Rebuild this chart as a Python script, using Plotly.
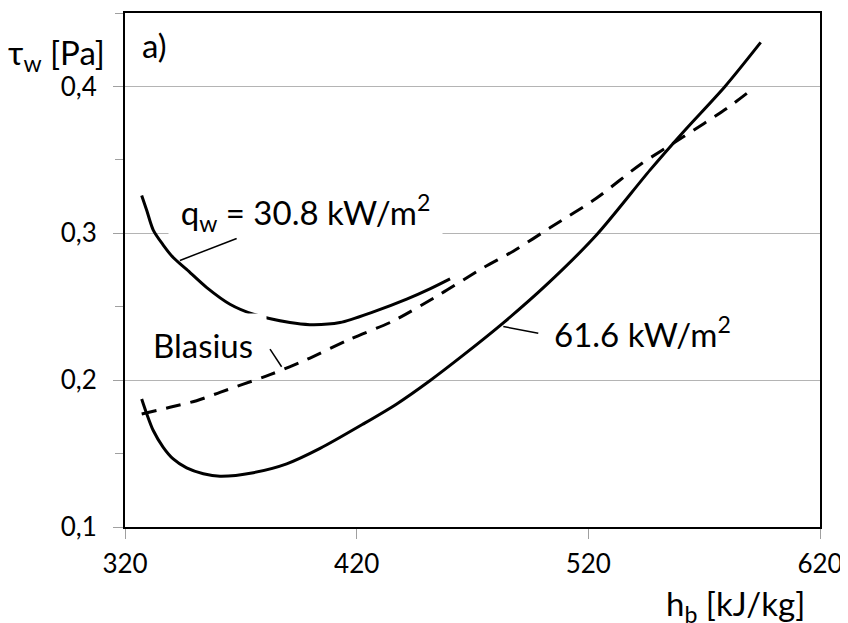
import plotly.graph_objects as go

# --- data ---
h_q30 = [327.2, 329.4, 332.2, 336.5, 340.8, 346.6, 355.3, 365.3, 375.4, 391.2, 399.8, 412.8,
         427.2, 441.6, 451.6, 460.3]
tau_q30 = [0.3257, 0.3155, 0.3022, 0.2920, 0.2835, 0.2754, 0.2630, 0.2517, 0.2449, 0.2392, 0.2378, 0.2392,
           0.2465, 0.2552, 0.2622, 0.2690]

h_q61 = [327.2, 329.4, 332.2, 336.5, 340.8, 346.6, 353.8, 361.0, 375.4, 389.8, 404.2, 422.9, 437.3,
         451.6, 466.0, 483.3, 502.0, 523.6, 546.6, 561.0, 579.0, 594.4]
tau_q61 = [0.1872, 0.1770, 0.1657, 0.1543, 0.1464, 0.1403, 0.1363, 0.1346, 0.1370, 0.1430, 0.1535, 0.1702,
           0.1838, 0.1996, 0.2170, 0.2390, 0.2650, 0.2990, 0.3430, 0.3690, 0.4000, 0.4300]

h_blas = [327.2, 339.4, 350.9, 361.0, 371.1, 382.6, 398.4, 417.1, 435.8, 456.0, 474.6, 487.6, 503.4,
          523.6, 542.3, 561.0, 579.7, 591.2]
tau_blas = [0.1770, 0.1815, 0.1860, 0.1917, 0.1973, 0.2037, 0.2140, 0.2279, 0.2403, 0.2585, 0.2765,
            0.2878, 0.3037, 0.3240, 0.3467, 0.3657, 0.3850, 0.3987]

x_tickvals = [320, 420, 520, 620]
x_ticktext = ["320", "420", "520", "620"]
y_tickvals = [0.1, 0.2, 0.3, 0.4]
y_ticktext = ["0,1", "0,2", "0,3", "0,4"]

FONT = "Lato, 'Open Sans', sans-serif"
FS_TICK = 26
FS_LAB = 33

fig = go.Figure()
line_style = dict(color="black", width=3, shape="spline", smoothing=0.8)
fig.add_trace(go.Scatter(x=h_q30, y=tau_q30, mode="lines", line=line_style, showlegend=False))
fig.add_trace(go.Scatter(x=h_q61, y=tau_q61, mode="lines", line=line_style, showlegend=False))
fig.add_trace(go.Scatter(x=h_blas, y=tau_blas, mode="lines",
                         line=dict(color="black", width=3, dash="15px,10px", shape="spline", smoothing=0.8),
                         showlegend=False))

# leader lines
leaders = [
    ((343.7, 0.2815), (368.2, 0.2965)),
    ((382.6, 0.2211), (387.6, 0.2091)),
    ((483.3, 0.2365), (498.4, 0.2320)),
]
for (x0, y0), (x1, y1) in leaders:
    fig.add_shape(type="line", x0=x0, y0=y0, x1=x1, y1=y1, xref="x", yref="y",
                  line=dict(color="black", width=1.5), layer="above")

lab_font = dict(family=FONT, size=FS_LAB, color="black")
fig.add_annotation(x=397.7, y=0.2967, xref="x", yref="y", yanchor="bottom",
                   text="q<sub>w</sub> = 30.8 kW/m<sup>2</sup>", showarrow=False,
                   bgcolor="white", width=273, borderpad=0, font=lab_font)
fig.add_annotation(x=353.7, y=0.2276, xref="x", yref="y",
                   text="Blasius", showarrow=False, bgcolor="white",
                   width=126, height=51, valign="bottom", borderpad=0, font=lab_font)
fig.add_annotation(x=504.2, y=0.2331, xref="x", yref="y", xanchor="left",
                   text="61.6 kW/m<sup>2</sup>", showarrow=False, font=lab_font)
fig.add_annotation(x=0.0216, y=0.938, xref="paper", yref="paper", xanchor="left", yanchor="middle",
                   text="a)", showarrow=False, font=lab_font)
fig.add_annotation(x=-0.026, y=0.9186, xref="paper", yref="paper", xanchor="right", yanchor="middle",
                   text="τ<sub>w</sub> [Pa]", showarrow=False, font=lab_font)
fig.add_annotation(x=0.981, y=-0.153, xref="paper", yref="paper", xanchor="right", yanchor="middle",
                   text="h<sub>b</sub> [kJ/kg]", showarrow=False, font=lab_font)

fig.update_layout(
    width=840, height=615,
    margin=dict(l=117, r=28, t=3, b=96),
    paper_bgcolor="white", plot_bgcolor="white",
    font=dict(family=FONT, size=FS_TICK, color="black"),
    showlegend=False,
)
fig.update_xaxes(range=[320, 620], tickvals=x_tickvals, ticktext=x_ticktext,
                 showgrid=False, zeroline=False,
                 showline=True, linecolor="black", linewidth=2, mirror=True,
                 ticks="outside", ticklen=10, tickcolor="#a0a0a0", tickwidth=1,
                 ticklabelstandoff=3,
                 tickfont=dict(family=FONT, size=FS_TICK, color="black"))
fig.update_yaxes(range=[0.1, 0.45], tickvals=y_tickvals, ticktext=y_ticktext,
                 showgrid=True, gridcolor="#b4b4b4", gridwidth=1, zeroline=False,
                 showline=True, linecolor="black", linewidth=2, mirror=True,
                 ticks="outside", ticklen=10, tickcolor="#a0a0a0", tickwidth=1,
                 ticklabelstandoff=11,
                 minor=dict(dtick=0.05, tick0=0.1, ticks="outside", ticklen=8, tickcolor="#a0a0a0",
                            showgrid=False),
                 tickfont=dict(family=FONT, size=FS_TICK, color="black"))

fig.write_html("out.html")
